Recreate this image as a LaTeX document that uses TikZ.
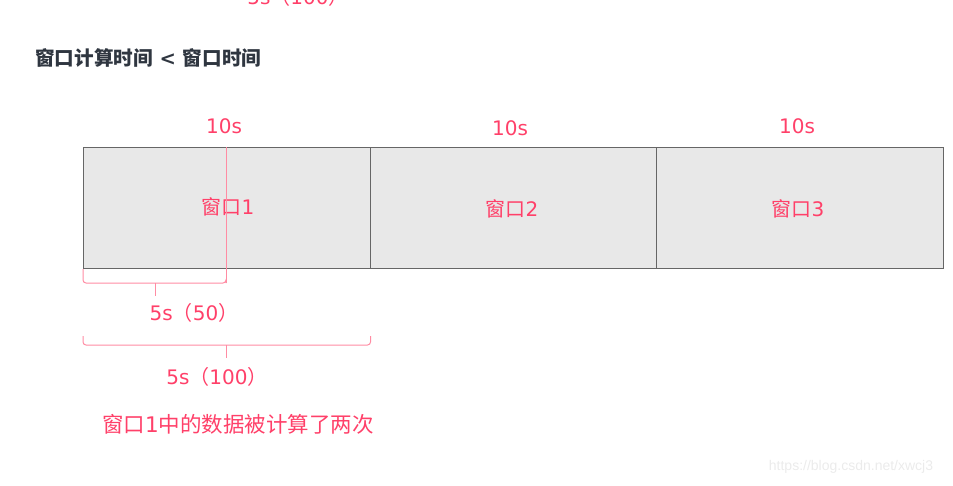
\documentclass[tikz,border=0pt]{standalone}
\usepackage{fontspec}
\setmainfont{Noto Sans CJK SC}
\newfontfamily\dv{DejaVu Sans}
\newfontfamily\wmfont{Liberation Sans}
\definecolor{winred}{HTML}{FF4069}
\definecolor{bracered}{HTML}{FF8CA3}
\definecolor{wingray}{HTML}{E8E8E8}
\definecolor{titlegray}{HTML}{2F3640}
\tikzstyle{win}=[draw=black!60, fill=wingray, line width=1pt, minimum width=286.5pt, minimum height=121pt, inner sep=0, anchor=north west]
\tikzstyle{lbl}=[text=winred, font=\fontsize{20}{24}\selectfont, inner sep=0]
\tikzstyle{brace}=[draw=bracered, line width=1pt, rounded corners=3pt]

\begin{document}
\begin{tikzpicture}[x=1pt, y=-1pt]

\useasboundingbox (0, 0) rectangle (953, 485);
\clip (0, 0) rectangle (953, 485);

\node [lbl] (top) at (298, -3) {{\dv 5s}（{\dv 100}）};

\node [anchor=west, inner sep=0, text=titlegray, font=\fontsize{19.6}{23}\selectfont\bfseries] (title) at (35, 58) {窗口计算时间{\dv\bfseries{} < }窗口时间};

\node [win] (w1) at (83, 147) {};
\node [win] (w2) at (369.5, 147) {};
\node [win] (w3) at (656, 147) {};

\node [lbl] (t1) at (224, 126) {\dv 10s};
\node [lbl] (t2) at (510, 128) {\dv 10s};
\node [lbl] (t3) at (797, 126) {\dv 10s};

\node [lbl] (n1) at (228, 207) {窗口{\dv 1}};
\node [lbl] (n2) at (512, 209) {窗口{\dv 2}};
\node [lbl] (n3) at (798, 209) {窗口{\dv 3}};

\coordinate (cut) at (226, 147);
\coordinate (cutb) at (226, 283);
\draw [bracered, line width=1pt] (cut) -- (cutb);

\draw [brace] (w1.south west) -- (83, 283) -- (155, 283) -- (226, 283) -- (cutb);
\draw [bracered, line width=1pt] (155, 283) -- (155, 296);
\node [lbl] (b1) at (194, 313) {{\dv 5s}（{\dv 50}）};

\draw [brace] (83, 336) -- (83, 345) -- (w1.south east |- 0, 345) -- (w1.south east |- 0, 336);
\draw [bracered, line width=1pt] (226, 345) -- (226, 358);
\node [lbl] (b2) at (217, 377) {{\dv 5s}（{\dv 100}）};

\node [lbl, font=\fontsize{21.5}{25}\selectfont] (note) at (238, 424) {窗口{\dv 1}中的数据被计算了两次};

\node [inner sep=0, text=black!8, font=\wmfont\fontsize{14}{16}\selectfont] (wm) at (851, 467) {https://blog.csdn.net/xwcj3};

\end{tikzpicture}
\end{document}
